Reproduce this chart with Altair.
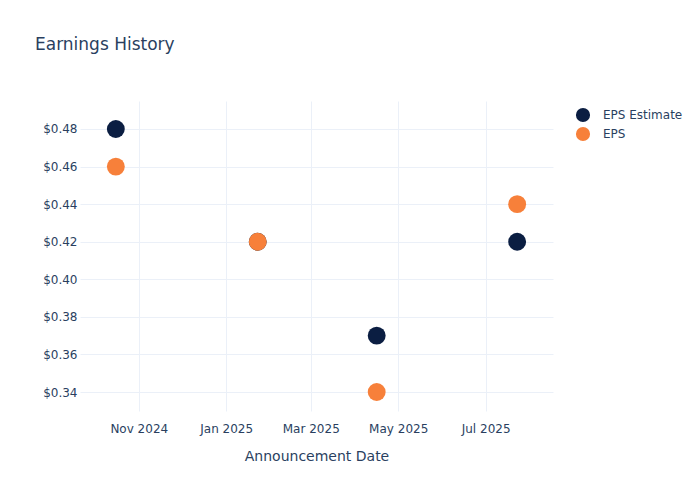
import altair as alt
import pandas as pd

dates = ["2024-10-16", "2025-01-23", "2025-04-16", "2025-07-23"]
eps_estimate = [0.48, 0.42, 0.37, 0.42]
eps_actual = [0.46, 0.42, 0.34, 0.44]
series_names = ["EPS Estimate", "EPS"]
series_colors = ["#0B1E42", "#F7803A"]
y_ticks = [0.34, 0.36, 0.38, 0.40, 0.42, 0.44, 0.46, 0.48]
x_ticks = [
    alt.DateTime(year=2024, month=11, date=1),
    alt.DateTime(year=2025, month=1, date=1),
    alt.DateTime(year=2025, month=3, date=1),
    alt.DateTime(year=2025, month=5, date=1),
    alt.DateTime(year=2025, month=7, date=1),
]

rows = []
for d, v in zip(dates, eps_estimate):
    rows.append({"date": d, "value": v, "series": series_names[0], "ord": 0})
for d, v in zip(dates, eps_actual):
    rows.append({"date": d, "value": v, "series": series_names[1], "ord": 1})
df = pd.DataFrame(rows)

FONT = "DejaVu Sans"
TXT = "#2a3f5f"
GRID = "#EBF0F8"

chart = (
    alt.Chart(df)
    .mark_circle(size=320, opacity=1)
    .encode(
        x=alt.X(
            "date:T",
            title="Announcement Date",
            scale=alt.Scale(
                domain=[
                    alt.DateTime(year=2024, month=9, date=21),
                    alt.DateTime(year=2025, month=8, date=17),
                ],
                nice=False,
            ),
            axis=alt.Axis(
                values=x_ticks,
                format="%b %Y",
                labelPadding=12,
                titlePadding=15,
                ticks=False,
                domain=False,
                grid=True,
            ),
        ),
        y=alt.Y(
            "value:Q",
            title=None,
            scale=alt.Scale(domain=[0.3299, 0.4949], nice=False, zero=False),
            axis=alt.Axis(
                values=y_ticks,
                format="$.2f",
                labelPadding=3,
                ticks=False,
                domain=False,
                grid=True,
            ),
        ),
        color=alt.Color(
            "series:N",
            scale=alt.Scale(domain=series_names, range=series_colors),
            legend=alt.Legend(
                title=None,
                orient="none",
                legendX=495,
                legendY=6,
                symbolSize=200,
                symbolType="circle",
                labelOffset=12,
                rowPadding=3,
                padding=0,
                labelFontSize=12,
                labelColor=TXT,
                labelFont=FONT,
            ),
        ),
        order=alt.Order("ord:Q"),
    )
    .properties(
        width=473,
        height=310,
        autosize=alt.AutoSizeParams(type="none"),
        padding={"left": 72, "top": 93, "right": 139, "bottom": 81},
        background="white",
        title=alt.TitleParams(
            "Earnings History",
            anchor="start",
            frame="group",
            dx=-45,
            offset=30,
            baseline="bottom",
            fontSize=17,
            font=FONT,
            color=TXT,
            fontWeight="normal",
        ),
    )
    .configure_view(stroke=None)
    .configure_axis(
        gridColor=GRID,
        gridWidth=1,
        labelFont=FONT,
        labelFontSize=12,
        labelColor=TXT,
        titleFont=FONT,
        titleFontSize=14,
        titleColor=TXT,
        titleFontWeight="normal",
    )
)

chart.save("out.html", embed_options={"renderer": "svg", "actions": False})
